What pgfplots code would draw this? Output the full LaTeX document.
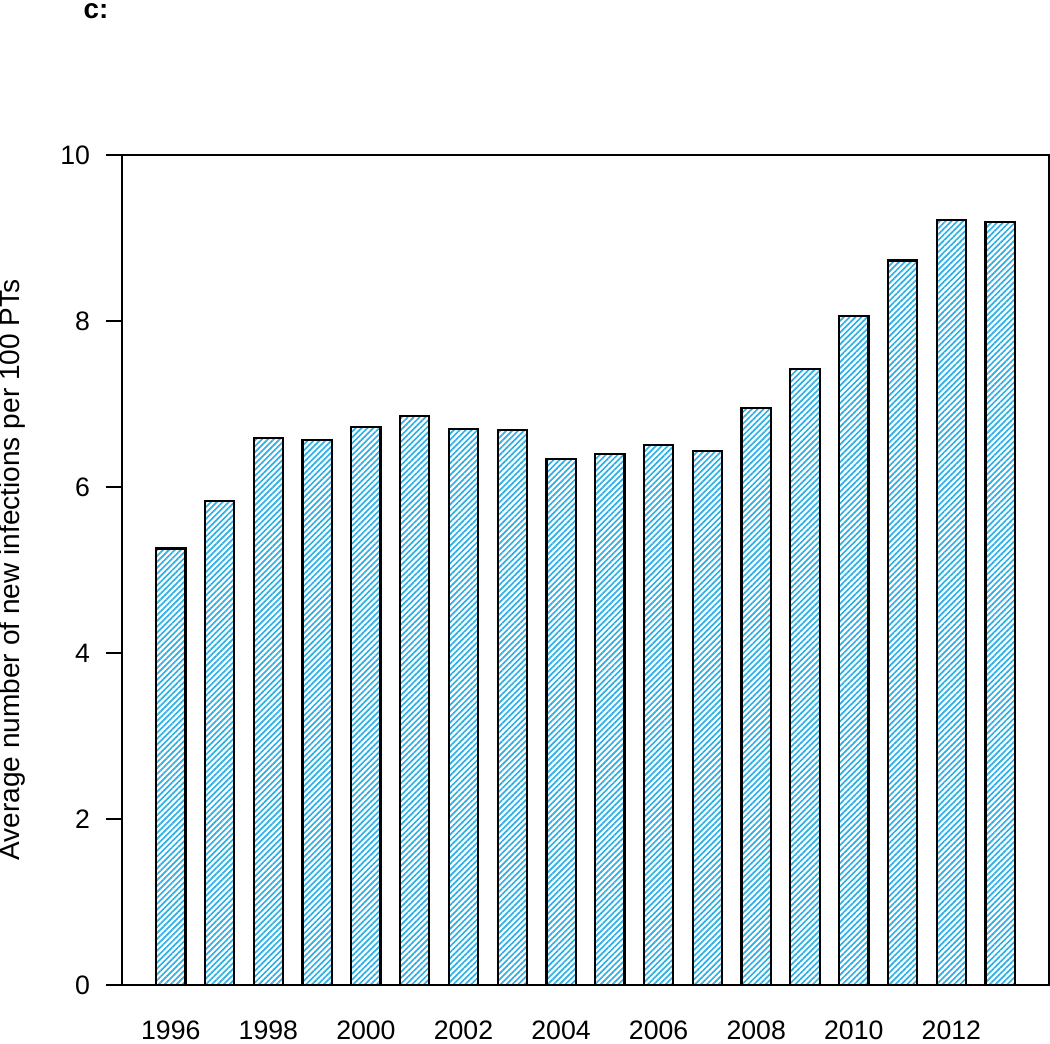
\documentclass[border=0pt]{standalone}
\usepackage{pgfplots}
\pgfplotsset{compat=1.18}
\usepackage{fontspec}
\setmainfont{Liberation Sans}
\usetikzlibrary{patterns.meta}
\definecolor{hatch}{RGB}{45,175,230}
\begin{document}
\begin{tikzpicture}
\begin{axis}[
  at={(0pt,0pt)}, anchor=south west,
  scale only axis,
  width=333.7pt, height=298.8pt,
  xmin=1995, xmax=2014,
  ymin=0, ymax=10,
  ytick={0,2,4,6,8,10},
  xtick={1996,1998,2000,2002,2004,2006,2008,2010,2012},
  xticklabel style={/pgf/number format/1000 sep=},
  /pgf/number format/assume math mode=true,
  tick label style={font=\fontsize{9.6}{11}\selectfont},
  x tick label style={yshift=-3.5pt},
  y tick label style={xshift=-2.2pt},
  major tick length=5.8pt,
  ytick style={line width=0.8pt, black},
  xtick style={draw=none},
  tick align=outside,
  tick pos=left,
  axis line style={line width=0.8pt},
  ylabel={Average number of new infections per 100 PTs},
  every axis y label/.style={at={(axis description cs:0,0.5)}, xshift=-39.6pt, rotate=90, anchor=center, font=\fontsize{10.1}{12}\selectfont},
  clip=false,
]
\addplot[ybar, bar width=0.6, draw=black, line width=0.8pt,
  pattern={Lines[angle=45, distance=1.5pt, line width=0.6pt]}, pattern color=hatch]
coordinates {
(1996,5.26) (1997,5.83) (1998,6.59) (1999,6.57) (2000,6.72) (2001,6.86)
(2002,6.70) (2003,6.69) (2004,6.34) (2005,6.40) (2006,6.51) (2007,6.43)
(2008,6.95) (2009,7.42) (2010,8.06) (2011,8.73) (2012,9.22) (2013,9.19)
};
\end{axis}
\node[font=\fontsize{10}{12}\selectfont\bfseries] at (-9.36pt,350.64pt) {c:};
\pgfresetboundingbox
\path (-43.92pt,-20.88pt) rectangle (334.08pt,354.6pt);
\end{tikzpicture}
\end{document}
